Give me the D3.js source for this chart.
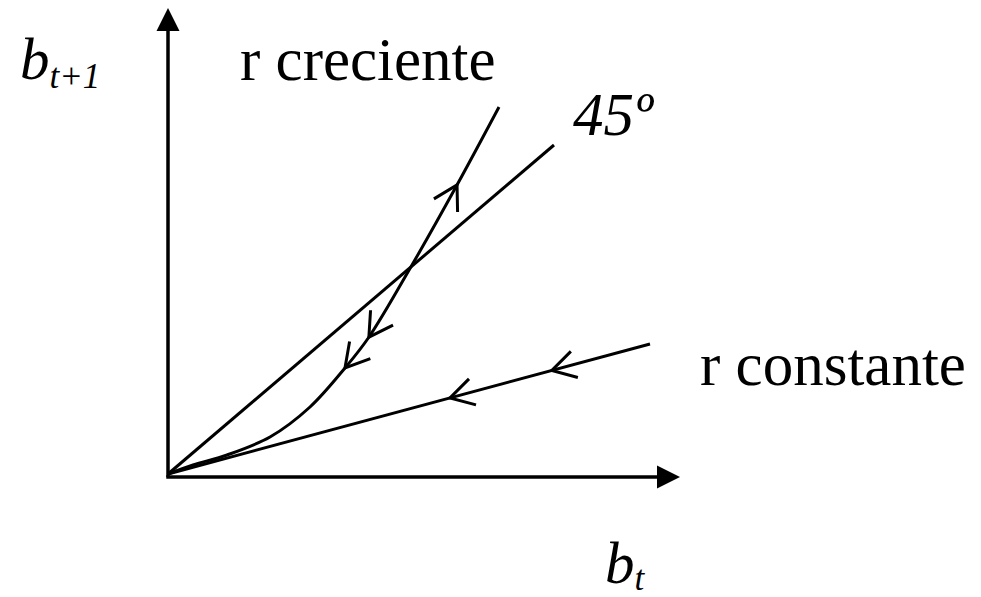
<!DOCTYPE html>
<html>
<head>
<meta charset="utf-8">
<script src="https://cdn.jsdelivr.net/npm/d3@7"></script>
<style>
  body { margin: 0; background: #fff; }
  text { font-family: "Liberation Serif", "Times New Roman", serif; fill: #000; }
</style>
</head>
<body>
<div id="chart"></div>
<script>
// DATA (chart units, both lines start at the origin)
const line45 = [[0, 0], [7.72, 6.58]];
const lineCreciente = [[6.62, 7.34], [5.78, 5.78], [4.88, 4.18], [4.02, 2.74], [3.54, 2.12],
                       [2.84, 1.34], [2.04, 0.74], [1.18, 0.38], [0.5, 0.18], [0, 0]];
const lineConstante = [[0, 0], [9.64, 2.6]];

// arrow tips on the lines, dir 1 = along the drawn path, -1 = against it
const arrowsCreciente = [[5.78, 5.78, -1], [4.02, 2.74, 1], [3.54, 2.12, 1]];
const arrowsConstante = [[7.68, 2.07, -1], [5.64, 1.52, -1]];

// axis extents
const xAxisEnd = 10.24;
const yAxisEnd = 9.32;
const axisBase = -0.06;

const width = 981,
    height = 597;

const x = d3.scaleLinear().domain([0, 10]).range([168, 668]);
const y = d3.scaleLinear().domain([0, 10]).range([474, -26]);

const svg = d3.select("#chart")
  .append("svg")
    .attr("width", width)
    .attr("height", height);

// axes with filled arrow heads
const head = 23;
svg.append("line")
  .attr("x1", x(0)).attr("y1", y(axisBase))
  .attr("x2", x(0)).attr("y2", y(yAxisEnd) + head)
  .attr("stroke", "black").attr("stroke-width", 3.5);
svg.append("path")
  .attr("d", `M${x(0)},${y(yAxisEnd)} L${x(0) - 11.5},${y(yAxisEnd) + head} L${x(0) + 11.5},${y(yAxisEnd) + head}Z`)
  .attr("fill", "black");
svg.append("line")
  .attr("x1", x(0) - 1.75).attr("y1", y(axisBase))
  .attr("x2", x(xAxisEnd) - head).attr("y2", y(axisBase))
  .attr("stroke", "black").attr("stroke-width", 3.5);
svg.append("path")
  .attr("d", `M${x(xAxisEnd)},${y(axisBase)} L${x(xAxisEnd) - head},${y(axisBase) - 11.5} L${x(xAxisEnd) - head},${y(axisBase) + 11.5}Z`)
  .attr("fill", "black");

// the three lines
const straight = d3.line().x(d => x(d[0])).y(d => y(d[1]));
const smooth = d3.line().x(d => x(d[0])).y(d => y(d[1])).curve(d3.curveCatmullRom.alpha(0.5));

function drawLine(data, gen) {
  return svg.append("path")
    .attr("d", gen(data))
    .attr("fill", "none")
    .attr("stroke", "black")
    .attr("stroke-width", 3);
}

drawLine(line45, straight);
const pathCreciente = drawLine(lineCreciente, smooth);
const pathConstante = drawLine(lineConstante, straight);

// open arrows sitting on a path
function drawArrows(path, tips) {
  const node = path.node();
  const total = node.getTotalLength();
  tips.forEach(t => {
    const px = x(t[0]), py = y(t[1]);
    let best = 0, bestD = Infinity;
    for (let l = 0; l <= total; l += 0.5) {
      const p = node.getPointAtLength(l);
      const d = (p.x - px) ** 2 + (p.y - py) ** 2;
      if (d < bestD) { bestD = d; best = l; }
    }
    const p0 = node.getPointAtLength(best);
    const p1 = node.getPointAtLength(Math.max(0, Math.min(total, best - t[2] * 8)));
    const back = Math.atan2(p1.y - p0.y, p1.x - p0.x);
    const len = 27, spread = Math.PI / 6;
    const a = [p0.x + len * Math.cos(back + spread), p0.y + len * Math.sin(back + spread)];
    const b = [p0.x + len * Math.cos(back - spread), p0.y + len * Math.sin(back - spread)];
    svg.append("path")
      .attr("d", d3.line()([a, [p0.x, p0.y], b]))
      .attr("fill", "none")
      .attr("stroke", "black")
      .attr("stroke-width", 3);
  });
}

drawArrows(pathCreciente, arrowsCreciente);
drawArrows(pathConstante, arrowsConstante);

// labels
const yLabel = svg.append("text")
  .attr("x", 20).attr("y", 79)
  .style("font-size", "59px").style("font-style", "italic")
  .text("b");
yLabel.append("tspan")
  .attr("dy", 9)
  .style("font-size", "35px")
  .text("t+1");

svg.append("text")
  .attr("x", 240).attr("y", 80)
  .style("font-size", "61px")
  .text("r creciente");

svg.append("text")
  .attr("x", 573).attr("y", 135)
  .style("font-size", "61px").style("font-style", "italic")
  .text("45º");

svg.append("text")
  .attr("x", 700).attr("y", 385)
  .style("font-size", "61px")
  .text("r constante");

const xLabel = svg.append("text")
  .attr("x", 605).attr("y", 583)
  .style("font-size", "59px").style("font-style", "italic")
  .text("b");
xLabel.append("tspan")
  .attr("dy", 7)
  .style("font-size", "35px")
  .text("t");
</script>
</body>
</html>
